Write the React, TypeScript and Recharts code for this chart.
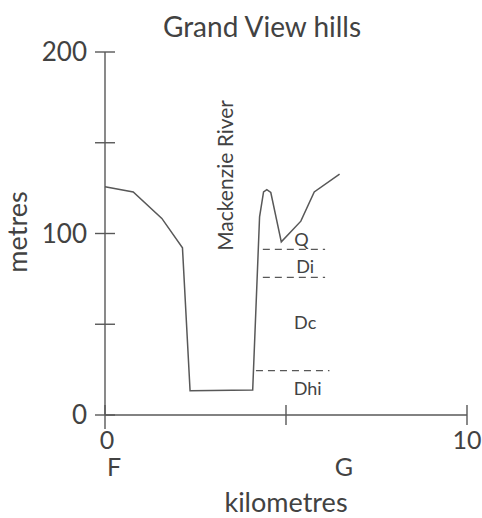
import React from 'react';
import { LineChart, Line, XAxis, YAxis, ReferenceLine, ReferenceDot } from 'recharts';

// profile F-G across the Grand View hills
const distanceKm = [0, 0.78, 1.57, 2.14, 2.35, 4.08, 4.27, 4.38, 4.47, 4.58, 4.87, 5.41, 5.78, 6.48];
const elevationM = [125.7, 122.9, 108.3, 92.1, 13.4, 13.8, 109.2, 122.9, 124.2, 122.6, 95.4, 106.8, 122.9, 132.7];

const yTicks = [0, 50, 100, 150, 200];
const yTickLabels = [0, 100, 200];
const xTicks = [0, 5, 10];
const xTickLabels = [0, 10];

const stationKm = [0.25, 6.6];
const stationNames = ['F', 'G'];

// unit boundaries (dashed), metres, and the km span they cover
const boundaryM = [91.2, 75.8, 24.4];
const boundaryFrom = [4.36, 4.36, 4.17];
const boundaryTo = [6.08, 6.08, 6.2];

const unitNames = ['Q', 'Di', 'Dc', 'Dhi'];
const unitKm = [5.43, 5.53, 5.53, 5.6];
const unitM = [97, 82, 51, 15];

const riverName = 'Mackenzie River';
const riverKm = 3.29;
const riverM = 132;

const data = distanceKm.map((km, i) => ({ km, m: elevationM[i] }));

const INK = '#424242';
const LINE = '#585858';
const FONT = 'Lato, "Open Sans", sans-serif';

const YTick = (props: any) => {
  const { x, y, payload } = props;
  const show = yTickLabels.includes(payload.value);
  return (
    <g>
      <line x1={x - 10} x2={x + 10} y1={y} y2={y} stroke={LINE} strokeWidth={1.4} />
      {show && (
        <text x={x - 18} y={y + 9} textAnchor="end" fontSize={26} fill={INK} fontFamily={FONT}>
          {payload.value}
        </text>
      )}
    </g>
  );
};

const XTick = (props: any) => {
  const { x, y, payload } = props;
  const show = xTickLabels.includes(payload.value);
  return (
    <g>
      <line x1={x} x2={x} y1={y - 10} y2={y + (payload.value === 0 ? 14 : 10)} stroke={LINE} strokeWidth={1.4} />
      {show && (
        <text x={x + (payload.value === 0 ? 2 : 0)} y={y + 34} textAnchor="middle" fontSize={25} fill={INK} fontFamily={FONT}>
          {payload.value}
        </text>
      )}
    </g>
  );
};

const StationTick = (props: any) => {
  const { x, y, payload } = props;
  const i = stationKm.indexOf(payload.value);
  return (
    <text x={x} y={y + 21} textAnchor="middle" fontSize={25} fill={INK} fontFamily={FONT}>
      {stationNames[i]}
    </text>
  );
};

export default function App() {
  return (
    <div style={{ position: 'absolute', left: 0, top: 0, background: '#fff' }}>
      <LineChart width={482} height={518} data={data} margin={{ top: 52, right: 15, left: 0, bottom: 0 }}>
        <text x={262} y={37} textAnchor="middle" fontSize={28} fill={INK} fontFamily={FONT}>
          Grand View hills
        </text>
        <XAxis
          dataKey="km"
          type="number"
          domain={[0, 10]}
          ticks={xTicks}
          height={40}
          tickSize={0}
          tickMargin={0}
          tickLine={false}
          axisLine={{ stroke: LINE, strokeWidth: 1.4 }}
          tick={<XTick />}
          interval={0}
        />
        <XAxis
          xAxisId="station"
          dataKey="km"
          type="number"
          domain={[0, 10]}
          ticks={stationKm}
          height={63}
          tickSize={0}
          tickMargin={0}
          tickLine={false}
          axisLine={false}
          tick={<StationTick />}
          interval={0}
          label={{ value: 'kilometres', position: 'insideBottom', offset: 6, fontSize: 27, fill: INK, fontFamily: FONT }}
        />
        <YAxis
          type="number"
          domain={[0, 200]}
          ticks={yTicks}
          width={105}
          tickSize={0}
          tickMargin={0}
          tickLine={false}
          axisLine={{ stroke: LINE, strokeWidth: 1.4 }}
          tick={<YTick />}
          interval={0}
        />
        <text x={27} y={232} textAnchor="middle" fontSize={27} fill={INK} fontFamily={FONT} transform="rotate(-90 27 232)">
          metres
        </text>
        {boundaryM.map((m, i) => (
          <ReferenceLine
            key={'b' + i}
            segment={[{ x: boundaryFrom[i], y: m }, { x: boundaryTo[i], y: m }]}
            stroke={LINE}
            strokeWidth={1.3}
            strokeDasharray="7 5"
          />
        ))}
        {unitNames.map((name, i) => (
          <ReferenceDot
            key={name}
            x={unitKm[i]}
            y={unitM[i]}
            r={0}
            shape={(p: any) => (
              <text x={p.cx} y={p.cy} textAnchor="middle" dominantBaseline="central" fontSize={18} fill={INK} fontFamily={FONT}>
                {name}
              </text>
            )}
          />
        ))}
        <ReferenceDot
          x={riverKm}
          y={riverM}
          r={0}
          shape={(p: any) => (
            <text
              x={p.cx}
              y={p.cy}
              textAnchor="middle"
              dominantBaseline="central"
              fontSize={21}
              fill={INK}
              fontFamily={FONT}
              transform={`rotate(-90 ${p.cx} ${p.cy})`}
            >
              {riverName}
            </text>
          )}
        />
        <Line
          type="linear"
          dataKey="m"
          stroke={LINE}
          strokeWidth={1.5}
          dot={false}
          isAnimationActive={false}
        />
      </LineChart>
    </div>
  );
}
